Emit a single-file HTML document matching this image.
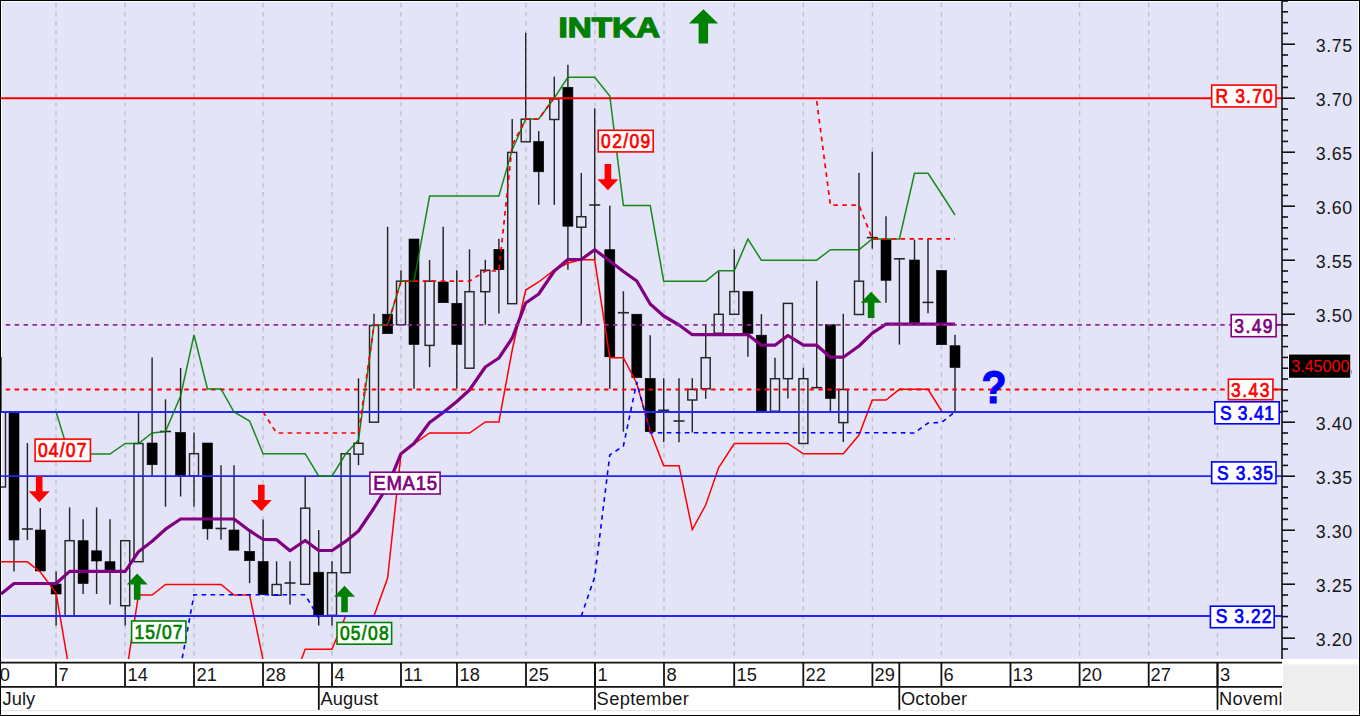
<!DOCTYPE html>
<html><head><meta charset="utf-8"><style>
html,body{margin:0;padding:0;background:#fff;}
svg{display:block;}
text{font-family:"Liberation Sans",sans-serif;}
</style></head><body>
<svg width="1360" height="716" viewBox="0 0 1360 716">
<defs><clipPath id="plot"><rect x="1" y="2" width="1281" height="657"/></clipPath></defs>
<rect x="0" y="0" width="1360" height="716" fill="#fff"/>
<rect x="2" y="2" width="1356" height="657" fill="#E4E4F8"/>
<rect x="1283" y="664.5" width="75" height="46.5" fill="#EEEEEE"/>

<g stroke="#C0C0C4" stroke-width="1.35" stroke-dasharray="4.4 4.6" stroke-dashoffset="-1">
<line x1="56" y1="2" x2="56" y2="659"/>
<line x1="125" y1="2" x2="125" y2="659"/>
<line x1="194" y1="2" x2="194" y2="659"/>
<line x1="263" y1="2" x2="263" y2="659"/>
<line x1="332" y1="2" x2="332" y2="659"/>
<line x1="401" y1="2" x2="401" y2="659"/>
<line x1="457" y1="2" x2="457" y2="659"/>
<line x1="526" y1="2" x2="526" y2="659"/>
<line x1="595" y1="2" x2="595" y2="659"/>
<line x1="664" y1="2" x2="664" y2="659"/>
<line x1="734.2" y1="2" x2="734.2" y2="659"/>
<line x1="803.3" y1="2" x2="803.3" y2="659"/>
<line x1="872.4" y1="2" x2="872.4" y2="659"/>
<line x1="941.4" y1="2" x2="941.4" y2="659"/>
<line x1="1010.5" y1="2" x2="1010.5" y2="659"/>
<line x1="1079.6" y1="2" x2="1079.6" y2="659"/>
<line x1="1148.7" y1="2" x2="1148.7" y2="659"/>
<line x1="1217.5" y1="2" x2="1217.5" y2="659"/>
</g>
<g clip-path="url(#plot)">
<g stroke="#262626" stroke-width="1.45" fill="none">
<line x1="1.0" y1="357" x2="1.0" y2="412"/>
<rect x="-3.5" y="412" width="9" height="75.0"/>
<line x1="14.0" y1="540" x2="14.0" y2="571.5"/>
<rect x="9.0" y="412" width="10" height="128.0" fill="#000" stroke="#000" stroke-width="0.6"/>
<line x1="27.4" y1="443" x2="27.4" y2="540"/>
<line x1="21.9" y1="529" x2="32.9" y2="529" stroke-width="1.6"/>
<line x1="40.3" y1="508" x2="40.3" y2="530"/>
<rect x="35.3" y="530" width="10" height="41.0" fill="#000" stroke="#000" stroke-width="0.6"/>
<line x1="56.1" y1="571.5" x2="56.1" y2="584"/>
<line x1="56.1" y1="594" x2="56.1" y2="625.5"/>
<rect x="51.1" y="584" width="10" height="10.0" fill="#000" stroke="#000" stroke-width="0.6"/>
<line x1="69.6" y1="507.4" x2="69.6" y2="540.7"/>
<rect x="65.1" y="540.7" width="9" height="75.3"/>
<line x1="83.1" y1="519.3" x2="83.1" y2="540.7"/>
<line x1="83.1" y1="583.5" x2="83.1" y2="594"/>
<rect x="78.1" y="540.7" width="10" height="42.8" fill="#000" stroke="#000" stroke-width="0.6"/>
<line x1="96.6" y1="507.4" x2="96.6" y2="550.8"/>
<line x1="96.6" y1="561" x2="96.6" y2="594"/>
<rect x="91.6" y="550.8" width="10" height="10.2" fill="#000" stroke="#000" stroke-width="0.6"/>
<line x1="110.0" y1="519.3" x2="110.0" y2="561.7"/>
<line x1="110.0" y1="570" x2="110.0" y2="604.5"/>
<rect x="105.0" y="561.7" width="10" height="8.3" fill="#000" stroke="#000" stroke-width="0.6"/>
<line x1="125.2" y1="605.7" x2="125.2" y2="625.5"/>
<rect x="120.7" y="540.7" width="9" height="65.0"/>
<line x1="138.5" y1="412" x2="138.5" y2="443.5"/>
<rect x="134.0" y="443.5" width="9" height="118.2"/>
<line x1="152.1" y1="357.4" x2="152.1" y2="443"/>
<line x1="152.1" y1="464.7" x2="152.1" y2="475.5"/>
<rect x="147.1" y="443" width="10" height="21.7" fill="#000" stroke="#000" stroke-width="0.6"/>
<line x1="165.5" y1="399.3" x2="165.5" y2="506.7"/>
<line x1="160.0" y1="431.5" x2="171.0" y2="431.5" stroke-width="1.6"/>
<line x1="180.6" y1="368" x2="180.6" y2="432.4"/>
<line x1="180.6" y1="475.8" x2="180.6" y2="496.5"/>
<rect x="175.6" y="432.4" width="10" height="43.4" fill="#000" stroke="#000" stroke-width="0.6"/>
<line x1="194.0" y1="432.4" x2="194.0" y2="453.7"/>
<line x1="194.0" y1="475.8" x2="194.0" y2="506.7"/>
<rect x="189.5" y="453.7" width="9" height="22.1"/>
<line x1="207.5" y1="528.8" x2="207.5" y2="539.7"/>
<rect x="202.5" y="443" width="10" height="85.8" fill="#000" stroke="#000" stroke-width="0.6"/>
<line x1="221.0" y1="465.3" x2="221.0" y2="539.7"/>
<line x1="215.5" y1="528.5" x2="226.5" y2="528.5" stroke-width="1.6"/>
<line x1="234.0" y1="465.3" x2="234.0" y2="530"/>
<rect x="229.0" y="530" width="10" height="20.2" fill="#000" stroke="#000" stroke-width="0.6"/>
<line x1="249.6" y1="532.2" x2="249.6" y2="551.3"/>
<line x1="249.6" y1="560.7" x2="249.6" y2="583.2"/>
<rect x="244.6" y="551.3" width="10" height="9.4" fill="#000" stroke="#000" stroke-width="0.6"/>
<line x1="263.1" y1="519.5" x2="263.1" y2="561.5"/>
<rect x="258.1" y="561.5" width="10" height="33.2" fill="#000" stroke="#000" stroke-width="0.6"/>
<line x1="276.6" y1="561.3" x2="276.6" y2="584.5"/>
<rect x="272.1" y="584.5" width="9" height="10.7"/>
<line x1="290.0" y1="561.3" x2="290.0" y2="604.5"/>
<line x1="284.5" y1="583" x2="295.5" y2="583" stroke-width="1.6"/>
<line x1="305.2" y1="476.7" x2="305.2" y2="508.2"/>
<rect x="300.7" y="508.2" width="9" height="76.1"/>
<line x1="318.7" y1="530" x2="318.7" y2="572.2"/>
<line x1="318.7" y1="615.3" x2="318.7" y2="625.5"/>
<rect x="313.7" y="572.2" width="10" height="43.1" fill="#000" stroke="#000" stroke-width="0.6"/>
<line x1="332.0" y1="561.3" x2="332.0" y2="572.7"/>
<line x1="332.0" y1="615.3" x2="332.0" y2="625.5"/>
<rect x="327.5" y="572.7" width="9" height="42.6"/>
<line x1="345.6" y1="453.7" x2="345.6" y2="453.8"/>
<rect x="341.1" y="453.8" width="9" height="118.9"/>
<line x1="358.5" y1="378.3" x2="358.5" y2="443.3"/>
<line x1="358.5" y1="454.2" x2="358.5" y2="465.2"/>
<rect x="354.0" y="443.3" width="9" height="10.9"/>
<line x1="374.0" y1="313.8" x2="374.0" y2="325.5"/>
<rect x="369.5" y="325.5" width="9" height="96.7"/>
<line x1="387.6" y1="226.8" x2="387.6" y2="314.2"/>
<rect x="382.6" y="314.2" width="10" height="19.5" fill="#000" stroke="#000" stroke-width="0.6"/>
<line x1="401.0" y1="270.3" x2="401.0" y2="281.2"/>
<rect x="396.5" y="281.2" width="9" height="43.5"/>
<line x1="414.0" y1="344.5" x2="414.0" y2="388.8"/>
<rect x="409.0" y="239" width="10" height="105.5" fill="#000" stroke="#000" stroke-width="0.6"/>
<line x1="429.6" y1="260" x2="429.6" y2="281.2"/>
<line x1="429.6" y1="345.4" x2="429.6" y2="367.2"/>
<rect x="425.1" y="281.2" width="9" height="64.2"/>
<line x1="443.2" y1="226.8" x2="443.2" y2="282"/>
<rect x="438.2" y="282" width="10" height="20.7" fill="#000" stroke="#000" stroke-width="0.6"/>
<line x1="456.8" y1="270.3" x2="456.8" y2="303.3"/>
<line x1="456.8" y1="344.5" x2="456.8" y2="388.8"/>
<rect x="451.8" y="303.3" width="10" height="41.2" fill="#000" stroke="#000" stroke-width="0.6"/>
<line x1="469.5" y1="249.3" x2="469.5" y2="291.7"/>
<rect x="465.0" y="291.7" width="9" height="76.5"/>
<line x1="485.3" y1="259.8" x2="485.3" y2="270.3"/>
<line x1="485.3" y1="291.7" x2="485.3" y2="324.7"/>
<rect x="480.8" y="270.3" width="9" height="21.4"/>
<line x1="498.9" y1="238.8" x2="498.9" y2="249.3"/>
<line x1="498.9" y1="269.7" x2="498.9" y2="313.5"/>
<rect x="493.9" y="249.3" width="10" height="20.4" fill="#000" stroke="#000" stroke-width="0.6"/>
<line x1="512.2" y1="119" x2="512.2" y2="152.4"/>
<rect x="507.7" y="152.4" width="9" height="151.3"/>
<line x1="525.7" y1="32.8" x2="525.7" y2="119.2"/>
<rect x="521.2" y="119.2" width="9" height="22.6"/>
<line x1="538.7" y1="131" x2="538.7" y2="141.5"/>
<line x1="538.7" y1="171.8" x2="538.7" y2="204.8"/>
<rect x="533.7" y="141.5" width="10" height="30.3" fill="#000" stroke="#000" stroke-width="0.6"/>
<line x1="554.3" y1="76.7" x2="554.3" y2="99"/>
<line x1="554.3" y1="119.5" x2="554.3" y2="204.8"/>
<rect x="549.8" y="99" width="9" height="20.5"/>
<line x1="567.9" y1="64.8" x2="567.9" y2="87.3"/>
<line x1="567.9" y1="226.2" x2="567.9" y2="269.7"/>
<rect x="562.9" y="87.3" width="10" height="138.9" fill="#000" stroke="#000" stroke-width="0.6"/>
<line x1="581.3" y1="173" x2="581.3" y2="216.7"/>
<line x1="581.3" y1="227.2" x2="581.3" y2="324.2"/>
<rect x="576.8" y="216.7" width="9" height="10.5"/>
<line x1="594.7" y1="108.3" x2="594.7" y2="260"/>
<line x1="589.2" y1="205" x2="600.2" y2="205" stroke-width="1.6"/>
<line x1="609.8" y1="205.8" x2="609.8" y2="249.7"/>
<line x1="609.8" y1="356.8" x2="609.8" y2="388.7"/>
<rect x="604.8" y="249.7" width="10" height="107.1" fill="#000" stroke="#000" stroke-width="0.6"/>
<line x1="623.4" y1="291.2" x2="623.4" y2="431.7"/>
<line x1="617.9" y1="312.7" x2="628.9" y2="312.7" stroke-width="1.6"/>
<rect x="631.8" y="314.2" width="10" height="63.4" fill="#000" stroke="#000" stroke-width="0.6"/>
<line x1="650.2" y1="335.2" x2="650.2" y2="378.4"/>
<rect x="645.2" y="378.4" width="10" height="53.3" fill="#000" stroke="#000" stroke-width="0.6"/>
<line x1="663.7" y1="378.2" x2="663.7" y2="442.2"/>
<line x1="658.2" y1="410.3" x2="669.2" y2="410.3" stroke-width="1.6"/>
<line x1="679.0" y1="378.2" x2="679.0" y2="442.2"/>
<line x1="673.5" y1="421" x2="684.5" y2="421" stroke-width="1.6"/>
<line x1="692.3" y1="378.2" x2="692.3" y2="389.4"/>
<line x1="692.3" y1="400" x2="692.3" y2="432.5"/>
<rect x="687.8" y="389.4" width="9" height="10.6"/>
<line x1="705.7" y1="324.7" x2="705.7" y2="357.7"/>
<line x1="705.7" y1="388.8" x2="705.7" y2="398.8"/>
<rect x="701.2" y="357.7" width="9" height="31.1"/>
<line x1="718.7" y1="271.5" x2="718.7" y2="314.3"/>
<rect x="714.2" y="314.3" width="9" height="18.9"/>
<line x1="734.3" y1="249.3" x2="734.3" y2="291.6"/>
<rect x="729.8" y="291.6" width="9" height="22.7"/>
<line x1="747.9" y1="333.5" x2="747.9" y2="356.8"/>
<rect x="742.9" y="291.6" width="10" height="41.9" fill="#000" stroke="#000" stroke-width="0.6"/>
<line x1="761.4" y1="314.2" x2="761.4" y2="335.2"/>
<rect x="756.4" y="335.2" width="10" height="76.1" fill="#000" stroke="#000" stroke-width="0.6"/>
<line x1="775.0" y1="357.7" x2="775.0" y2="378.7"/>
<rect x="770.5" y="378.7" width="9" height="32.5"/>
<line x1="787.9" y1="378.7" x2="787.9" y2="398.5"/>
<rect x="783.4" y="303.4" width="9" height="75.3"/>
<line x1="803.4" y1="367.7" x2="803.4" y2="378.7"/>
<rect x="798.9" y="378.7" width="9" height="64.8"/>
<line x1="816.7" y1="280.8" x2="816.7" y2="387.7"/>
<line x1="811.2" y1="387.7" x2="822.2" y2="387.7" stroke-width="1.6"/>
<line x1="830.4" y1="398.5" x2="830.4" y2="411.4"/>
<rect x="825.4" y="324.7" width="10" height="73.8" fill="#000" stroke="#000" stroke-width="0.6"/>
<line x1="843.3" y1="313.8" x2="843.3" y2="389.5"/>
<line x1="843.3" y1="422.6" x2="843.3" y2="442"/>
<rect x="838.8" y="389.5" width="9" height="33.1"/>
<line x1="859.0" y1="172.7" x2="859.0" y2="281.2"/>
<rect x="854.5" y="281.2" width="9" height="33.3"/>
<line x1="872.3" y1="151.7" x2="872.3" y2="248.7"/>
<line x1="866.8" y1="237.6" x2="877.8" y2="237.6" stroke-width="1.6"/>
<line x1="886.0" y1="216.2" x2="886.0" y2="239.7"/>
<line x1="886.0" y1="280.3" x2="886.0" y2="302.7"/>
<rect x="881.0" y="239.7" width="10" height="40.6" fill="#000" stroke="#000" stroke-width="0.6"/>
<line x1="899.4" y1="258.8" x2="899.4" y2="344.7"/>
<line x1="893.9" y1="258.8" x2="904.9" y2="258.8" stroke-width="1.6"/>
<line x1="914.5" y1="239.7" x2="914.5" y2="260"/>
<rect x="909.5" y="260" width="10" height="62.6" fill="#000" stroke="#000" stroke-width="0.6"/>
<line x1="928.0" y1="239" x2="928.0" y2="313.2"/>
<line x1="922.5" y1="302.4" x2="933.5" y2="302.4" stroke-width="1.6"/>
<rect x="936.6" y="270.5" width="10" height="74.2" fill="#000" stroke="#000" stroke-width="0.6"/>
<line x1="955.0" y1="334.8" x2="955.0" y2="345.7"/>
<line x1="955.0" y1="367.5" x2="955.0" y2="411"/>
<rect x="950.0" y="345.7" width="10" height="21.8" fill="#000" stroke="#000" stroke-width="0.6"/>
</g>
<polyline points="-12.7,561.8 1.0,561.8 14.0,561.8 27.4,561.8 40.3,572.0 56.1,593.0 69.6,672.0 83.1,720.0 96.6,720.0 110.0,720.0 125.2,680.0 138.5,595.0 152.1,595.0 165.5,584.4 180.6,584.4 194.0,584.4 207.5,584.4 221.0,584.4 234.0,595.0 249.6,595.0 263.1,660.0 276.6,700.0 290.0,690.0 305.2,649.2 318.7,649.2 332.0,649.2 345.6,616.0 358.5,616.0 374.0,616.0 387.6,578.0 401.0,454.0 414.0,444.0 429.6,433.0 443.2,433.0 456.8,433.0 469.5,433.0 485.3,422.0 498.9,422.0 512.2,350.0 525.7,290.0 538.7,282.0 554.3,270.0 567.9,263.0 581.3,259.8 594.7,259.8 609.8,357.7 623.4,357.7 636.8,383.5 650.2,431.0 663.7,465.7 679.0,465.7 692.3,529.7 705.7,505.0 718.7,467.5 734.3,443.5 747.9,443.5 761.4,443.5 775.0,443.5 787.9,443.5 803.4,453.8 816.7,453.8 830.4,453.8 843.3,453.8 859.0,435.0 872.3,400.1 886.0,400.1 899.4,389.3 914.5,389.3 928.0,389.3 941.6,411.0" fill="none" stroke="#FF0000" stroke-width="1.5"/>
<polyline points="1.0,594.0 14.0,583.5 27.4,583.5 40.3,583.5 56.1,583.5 69.6,571.4 83.1,571.4 96.6,571.4 110.0,571.4 125.2,571.4 138.5,551.7 152.1,541.2 165.5,529.2 180.6,519.0 194.0,519.0 207.5,519.0 221.0,519.0 234.0,519.0 249.6,530.7 263.1,539.5 276.6,539.7 290.0,550.8 305.2,540.5 318.7,550.5 332.0,550.5 345.6,541.4 358.5,531.0 374.0,508.0 387.6,486.0 401.0,453.7 414.0,443.5 429.6,422.5 443.2,412.5 456.8,401.5 469.5,390.0 485.3,367.0 498.9,358.0 512.2,338.0 525.7,303.0 538.7,294.0 554.3,271.0 567.9,259.5 581.3,259.5 594.7,249.7 609.8,261.0 623.4,271.5 636.8,281.0 650.2,304.0 663.7,316.0 679.0,325.0 692.3,334.7 705.7,334.7 718.7,334.7 734.3,334.7 747.9,334.7 761.4,345.2 775.0,345.2 787.9,335.5 803.4,345.2 816.7,345.2 830.4,357.2 843.3,357.2 859.0,346.0 872.3,333.2 886.0,324.2 899.4,324.2 914.5,324.2 928.0,324.2 941.6,324.2 955.0,324.2" fill="none" stroke="#800080" stroke-width="3.2" stroke-linejoin="round"/>
<line x1="1" y1="98.2" x2="1282" y2="98.2" stroke="#FF0000" stroke-width="2"/>
<line x1="2" y1="324.8" x2="1282" y2="324.8" stroke="#8E2A94" stroke-width="1.8" stroke-dasharray="4.5 4.43" stroke-dashoffset="-3.7"/>
<line x1="2" y1="389.5" x2="1282" y2="389.5" stroke="#FF0000" stroke-width="1.8" stroke-dasharray="4.5 4.43" stroke-dashoffset="-3.7"/>
<line x1="1" y1="412.0" x2="1282" y2="412.0" stroke="#2424FF" stroke-width="1.8"/>
<line x1="1" y1="476.2" x2="1282" y2="476.2" stroke="#2424FF" stroke-width="1.8"/>
<line x1="1" y1="616.0" x2="1282" y2="616.0" stroke="#2424FF" stroke-width="1.8"/>
<polyline points="56.1,412.0 69.6,456.0 83.1,454.0 96.6,454.0 110.0,454.0 125.2,443.5 138.5,443.5 152.1,433.0 165.5,431.5 180.6,396.0 194.0,335.0 207.5,389.0 221.0,389.0 234.0,412.0 249.6,421.0 263.1,453.7 276.6,453.7 290.0,453.7 305.2,453.7 318.7,476.2 332.0,476.2 345.6,454.0 358.5,440.0 374.0,325.0 387.6,325.0 401.0,281.2 414.0,281.2 429.6,196.0 443.2,196.0 456.8,196.0 469.5,196.0 485.3,196.0 498.9,196.0 512.2,150.0 525.7,119.0 538.7,119.0 554.3,98.0 567.9,77.3 581.3,77.3 594.7,77.3 609.8,96.0 623.4,205.5 636.8,205.5 650.2,205.5 663.7,281.2 679.0,281.2 692.3,281.2 705.7,281.2 718.7,270.7 734.3,270.7 747.9,239.2 761.4,260.2 775.0,260.2 787.9,260.2 803.4,260.2 816.7,260.2 830.4,249.7 843.3,249.7 859.0,249.7 872.3,239.0 886.0,239.0 899.4,239.0 914.5,173.3 928.0,173.3 941.6,194.0 955.0,215.0" fill="none" stroke="#008000" stroke-width="1.5" opacity="0.9"/>
<polyline points="263.1,412.0 276.6,433.0 290.0,433.0 305.2,433.0 318.7,433.0 332.0,433.0 345.6,433.0 358.5,433.0 374.0,325.0 387.6,325.0 401.0,281.2 414.0,281.2 429.6,281.2 443.2,281.2 456.8,281.2 469.5,281.2 485.3,271.0 498.9,271.0 512.2,145.0 525.7,119.2 538.7,119.2 554.3,97.5" fill="none" stroke="#FF0000" stroke-width="1.7" stroke-dasharray="4.6 4.4"/>
<polyline points="816.7,101.0 830.4,205.2 843.3,205.2 859.0,205.2 872.3,238.8 886.0,238.8 899.4,238.8 914.5,238.8 928.0,238.8 941.6,238.8 955.0,238.8" fill="none" stroke="#FF0000" stroke-width="1.7" stroke-dasharray="4.6 4.4"/>
<polyline points="180.6,667.0 194.0,594.8 207.5,594.8 221.0,594.8 234.0,594.8 249.6,594.8 263.1,594.8 276.6,594.8 290.0,594.8 305.2,594.8 318.7,618.0" fill="none" stroke="#0000FF" stroke-width="1.6" stroke-dasharray="4.6 4.4"/>
<polyline points="581.3,616.0 594.7,577.0 609.8,455.0 623.4,446.0 636.8,382.0 650.2,432.8 663.7,432.8 679.0,432.8 692.3,432.8 705.7,432.8 718.7,432.8 734.3,432.8 747.9,432.8 761.4,432.8 775.0,432.8 787.9,432.8 803.4,432.8 816.7,432.8 830.4,432.8 843.3,432.8 859.0,432.8 872.3,432.8 886.0,432.8 899.4,432.8 914.5,433.0 928.0,423.0 941.6,422.5 955.0,411.8" fill="none" stroke="#0000FF" stroke-width="1.6" stroke-dasharray="4.6 4.4"/>
</g>
<path d="M39.2,502.2 L49.7,491.2 L42.5,491.2 L42.5,476.3 L35.9,476.3 L35.9,491.2 L28.7,491.2 Z" fill="#FF0000"/>
<path d="M261.3,511.0 L271.8,500.0 L264.6,500.0 L264.6,484.8 L258.0,484.8 L258.0,500.0 L250.8,500.0 Z" fill="#FF0000"/>
<path d="M607.9,190.2 L618.4,179.2 L611.2,179.2 L611.2,164.0 L604.6,164.0 L604.6,179.2 L597.4,179.2 Z" fill="#FF0000"/>
<path d="M137.2,573.6 L147.7,584.6 L140.5,584.6 L140.5,599.8 L133.9,599.8 L133.9,584.6 L126.7,584.6 Z" fill="#008000"/>
<path d="M344.5,585.7 L355.0,596.7 L347.8,596.7 L347.8,612.3 L341.2,612.3 L341.2,596.7 L334.0,596.7 Z" fill="#008000"/>
<path d="M871.1,291.7 L881.6,302.7 L874.4,302.7 L874.4,318.0 L867.8,318.0 L867.8,302.7 L860.6,302.7 Z" fill="#008000"/>
<rect x="35.1" y="439.1" width="55.3" height="22.2" fill="#fff" stroke="#FF0000" stroke-width="1.6"/>
<text transform="translate(37.9,457.3) scale(0.88,1)" x="0" y="0" font-size="19.8" font-weight="normal" fill="#FF0000" stroke="#FF0000" stroke-width="0.75" textLength="55.1" lengthAdjust="spacing">04/07</text>
<rect x="131.6" y="621.0" width="54.3" height="21.7" fill="#fff" stroke="#008000" stroke-width="1.6"/>
<text transform="translate(134.5,638.6) scale(0.88,1)" x="0" y="0" font-size="19.8" font-weight="normal" fill="#008000" stroke="#008000" stroke-width="0.75" textLength="54.5" lengthAdjust="spacing">15/07</text>
<rect x="337.0" y="622.5" width="54.6" height="21.7" fill="#fff" stroke="#008000" stroke-width="1.6"/>
<text transform="translate(339.9,640.1) scale(0.88,1)" x="0" y="0" font-size="19.8" font-weight="normal" fill="#008000" stroke="#008000" stroke-width="0.75" textLength="55.3" lengthAdjust="spacing">05/08</text>
<rect x="598.2" y="130.3" width="55.0" height="21.6" fill="#fff" stroke="#FF0000" stroke-width="1.6"/>
<text transform="translate(601.1,148.0) scale(0.88,1)" x="0" y="0" font-size="19.8" font-weight="normal" fill="#FF0000" stroke="#FF0000" stroke-width="0.75" textLength="55.9" lengthAdjust="spacing">02/09</text>
<rect x="369.9" y="472.2" width="70.2" height="21.8" fill="#fff" stroke="#800080" stroke-width="1.6"/>
<text transform="translate(373.3,489.9) scale(0.94,1)" x="0" y="0" font-size="19.8" font-weight="normal" fill="#800080" stroke="#800080" stroke-width="0.75" textLength="67.8" lengthAdjust="spacing">EMA15</text>
<line x1="1276" y1="324.8" x2="1282" y2="324.8" stroke="#800080" stroke-width="1.8"/>
<line x1="1273" y1="389.5" x2="1282" y2="389.5" stroke="#FF0000" stroke-width="1.8"/>
<rect x="1211.7" y="85.1" width="64.3" height="21.8" fill="#fff" stroke="#FF0000" stroke-width="1.6"/>
<text transform="translate(1215.4,102.9) scale(0.88,1)" x="0" y="0" font-size="19.8" font-weight="normal" fill="#FF0000" stroke="#FF0000" stroke-width="0.75" textLength="65.1" lengthAdjust="spacing">R 3.70</text>
<rect x="1231.2" y="314.6" width="44.9" height="22.1" fill="#fff" stroke="#800080" stroke-width="1.6"/>
<text transform="translate(1234.3,332.5) scale(0.88,1)" x="0" y="0" font-size="19.8" font-weight="normal" fill="#800080" stroke="#800080" stroke-width="0.75" textLength="43.4" lengthAdjust="spacing">3.49</text>
<rect x="1228.4" y="379.2" width="44.5" height="20.5" fill="#fff" stroke="#FF0000" stroke-width="1.6"/>
<text transform="translate(1231.0,396.5) scale(0.88,1)" x="0" y="0" font-size="19.8" font-weight="normal" fill="#FF0000" stroke="#FF0000" stroke-width="0.75" textLength="43.8" lengthAdjust="spacing">3.43</text>
<rect x="1214.8" y="401.8" width="64.4" height="22.0" fill="#fff" stroke="#0000FF" stroke-width="1.6"/>
<text transform="translate(1219.9,419.8) scale(0.88,1)" x="0" y="0" font-size="19.8" font-weight="normal" fill="#0000FF" stroke="#0000FF" stroke-width="0.75" textLength="61.5" lengthAdjust="spacing">S 3.41</text>
<rect x="1211.7" y="461.9" width="64.3" height="21.6" fill="#fff" stroke="#0000FF" stroke-width="1.6"/>
<text transform="translate(1217.1,479.5) scale(0.88,1)" x="0" y="0" font-size="19.8" font-weight="normal" fill="#0000FF" stroke="#0000FF" stroke-width="0.75" textLength="63.5" lengthAdjust="spacing">S 3.35</text>
<rect x="1210.4" y="606.2" width="63.8" height="21.5" fill="#fff" stroke="#0000FF" stroke-width="1.6"/>
<text transform="translate(1215.7,623.1) scale(0.88,1)" x="0" y="0" font-size="19.8" font-weight="normal" fill="#0000FF" stroke="#0000FF" stroke-width="0.75" textLength="63.3" lengthAdjust="spacing">S 3.22</text>
<line x1="1282" y1="0" x2="1282" y2="659" stroke="#111" stroke-width="1.6"/>
<g stroke="#111" stroke-width="1.6">
<line x1="1282" y1="649.0" x2="1288" y2="649.0"/>
<line x1="1282" y1="638.2" x2="1295" y2="638.2"/>
<line x1="1282" y1="627.4" x2="1288" y2="627.4"/>
<line x1="1282" y1="616.6" x2="1288" y2="616.6"/>
<line x1="1282" y1="605.8" x2="1288" y2="605.8"/>
<line x1="1282" y1="595.0" x2="1288" y2="595.0"/>
<line x1="1282" y1="584.2" x2="1295" y2="584.2"/>
<line x1="1282" y1="573.4" x2="1288" y2="573.4"/>
<line x1="1282" y1="562.6" x2="1288" y2="562.6"/>
<line x1="1282" y1="551.8" x2="1288" y2="551.8"/>
<line x1="1282" y1="541.0" x2="1288" y2="541.0"/>
<line x1="1282" y1="530.2" x2="1295" y2="530.2"/>
<line x1="1282" y1="519.4" x2="1288" y2="519.4"/>
<line x1="1282" y1="508.6" x2="1288" y2="508.6"/>
<line x1="1282" y1="497.8" x2="1288" y2="497.8"/>
<line x1="1282" y1="487.0" x2="1288" y2="487.0"/>
<line x1="1282" y1="476.2" x2="1295" y2="476.2"/>
<line x1="1282" y1="465.4" x2="1288" y2="465.4"/>
<line x1="1282" y1="454.6" x2="1288" y2="454.6"/>
<line x1="1282" y1="443.8" x2="1288" y2="443.8"/>
<line x1="1282" y1="433.0" x2="1288" y2="433.0"/>
<line x1="1282" y1="422.2" x2="1295" y2="422.2"/>
<line x1="1282" y1="411.4" x2="1288" y2="411.4"/>
<line x1="1282" y1="400.6" x2="1288" y2="400.6"/>
<line x1="1282" y1="389.8" x2="1288" y2="389.8"/>
<line x1="1282" y1="379.0" x2="1288" y2="379.0"/>
<line x1="1282" y1="368.2" x2="1295" y2="368.2"/>
<line x1="1282" y1="357.4" x2="1288" y2="357.4"/>
<line x1="1282" y1="346.6" x2="1288" y2="346.6"/>
<line x1="1282" y1="335.8" x2="1288" y2="335.8"/>
<line x1="1282" y1="325.0" x2="1288" y2="325.0"/>
<line x1="1282" y1="314.2" x2="1295" y2="314.2"/>
<line x1="1282" y1="303.4" x2="1288" y2="303.4"/>
<line x1="1282" y1="292.6" x2="1288" y2="292.6"/>
<line x1="1282" y1="281.8" x2="1288" y2="281.8"/>
<line x1="1282" y1="271.0" x2="1288" y2="271.0"/>
<line x1="1282" y1="260.2" x2="1295" y2="260.2"/>
<line x1="1282" y1="249.4" x2="1288" y2="249.4"/>
<line x1="1282" y1="238.6" x2="1288" y2="238.6"/>
<line x1="1282" y1="227.8" x2="1288" y2="227.8"/>
<line x1="1282" y1="217.0" x2="1288" y2="217.0"/>
<line x1="1282" y1="206.2" x2="1295" y2="206.2"/>
<line x1="1282" y1="195.4" x2="1288" y2="195.4"/>
<line x1="1282" y1="184.6" x2="1288" y2="184.6"/>
<line x1="1282" y1="173.8" x2="1288" y2="173.8"/>
<line x1="1282" y1="163.0" x2="1288" y2="163.0"/>
<line x1="1282" y1="152.2" x2="1295" y2="152.2"/>
<line x1="1282" y1="141.4" x2="1288" y2="141.4"/>
<line x1="1282" y1="130.6" x2="1288" y2="130.6"/>
<line x1="1282" y1="119.8" x2="1288" y2="119.8"/>
<line x1="1282" y1="109.0" x2="1288" y2="109.0"/>
<line x1="1282" y1="98.2" x2="1295" y2="98.2"/>
<line x1="1282" y1="87.4" x2="1288" y2="87.4"/>
<line x1="1282" y1="76.6" x2="1288" y2="76.6"/>
<line x1="1282" y1="65.8" x2="1288" y2="65.8"/>
<line x1="1282" y1="55.0" x2="1288" y2="55.0"/>
<line x1="1282" y1="44.2" x2="1295" y2="44.2"/>
<line x1="1282" y1="33.4" x2="1288" y2="33.4"/>
<line x1="1282" y1="22.6" x2="1288" y2="22.6"/>
<line x1="1282" y1="11.8" x2="1288" y2="11.8"/>
<line x1="1282" y1="1.0" x2="1288" y2="1.0"/>
</g>
<text x="1352.6" y="646.4" font-size="17.8" fill="#161616" text-anchor="end" letter-spacing="0.55">3.20</text>
<text x="1352.6" y="592.4" font-size="17.8" fill="#161616" text-anchor="end" letter-spacing="0.55">3.25</text>
<text x="1352.6" y="538.4" font-size="17.8" fill="#161616" text-anchor="end" letter-spacing="0.55">3.30</text>
<text x="1352.6" y="484.4" font-size="17.8" fill="#161616" text-anchor="end" letter-spacing="0.55">3.35</text>
<text x="1352.6" y="430.4" font-size="17.8" fill="#161616" text-anchor="end" letter-spacing="0.55">3.40</text>
<text x="1352.6" y="376.4" font-size="17.8" fill="#161616" text-anchor="end" letter-spacing="0.55">3.45</text>
<text x="1352.6" y="322.4" font-size="17.8" fill="#161616" text-anchor="end" letter-spacing="0.55">3.50</text>
<text x="1352.6" y="268.4" font-size="17.8" fill="#161616" text-anchor="end" letter-spacing="0.55">3.55</text>
<text x="1352.6" y="214.4" font-size="17.8" fill="#161616" text-anchor="end" letter-spacing="0.55">3.60</text>
<text x="1352.6" y="160.4" font-size="17.8" fill="#161616" text-anchor="end" letter-spacing="0.55">3.65</text>
<text x="1352.6" y="106.4" font-size="17.8" fill="#161616" text-anchor="end" letter-spacing="0.55">3.70</text>
<text x="1352.6" y="52.4" font-size="17.8" fill="#161616" text-anchor="end" letter-spacing="0.55">3.75</text>
<rect x="1288.2" y="353.7" width="62.9" height="24.9" fill="#fff"/>
<rect x="1289" y="354.5" width="61.3" height="23.3" fill="#000"/>
<text x="1291.2" y="371.8" font-size="16" fill="#FF0000" textLength="58.2" lengthAdjust="spacingAndGlyphs">3.45000</text>
<text x="558.6" y="37.2" font-size="28.5" font-weight="bold" fill="#008000" stroke="#008000" stroke-width="1.3" textLength="101.5" lengthAdjust="spacingAndGlyphs">INTKA</text>
<path d="M703.4,9.2 L718.2,23.4 L708.1,23.4 L708.1,43.4 L698.6,43.4 L698.6,23.4 L688.9,23.4 Z" fill="#008000"/>
<text x="981.5" y="403.3" font-size="46" font-weight="bold" fill="#0000FF" stroke="#0000FF" stroke-width="1.2" textLength="25" lengthAdjust="spacingAndGlyphs">?</text>
<rect x="1" y="662" width="1281" height="49" fill="#fff"/>
<g stroke="#111" stroke-width="1.8">
<line x1="1" y1="662.6" x2="1282" y2="662.6"/>
<line x1="1" y1="686.8" x2="1282" y2="686.8"/>
<line x1="56" y1="662" x2="56" y2="687"/>
<line x1="125" y1="662" x2="125" y2="687"/>
<line x1="194" y1="662" x2="194" y2="687"/>
<line x1="263" y1="662" x2="263" y2="687"/>
<line x1="332" y1="662" x2="332" y2="687"/>
<line x1="401" y1="662" x2="401" y2="687"/>
<line x1="457" y1="662" x2="457" y2="687"/>
<line x1="526" y1="662" x2="526" y2="687"/>
<line x1="595" y1="662" x2="595" y2="687"/>
<line x1="664" y1="662" x2="664" y2="687"/>
<line x1="734.2" y1="662" x2="734.2" y2="687"/>
<line x1="803.3" y1="662" x2="803.3" y2="687"/>
<line x1="872.4" y1="662" x2="872.4" y2="687"/>
<line x1="941.4" y1="662" x2="941.4" y2="687"/>
<line x1="1010.5" y1="662" x2="1010.5" y2="687"/>
<line x1="1079.6" y1="662" x2="1079.6" y2="687"/>
<line x1="1148.7" y1="662" x2="1148.7" y2="687"/>
<line x1="1217.5" y1="662" x2="1217.5" y2="687"/>
<line x1="318.8" y1="662" x2="318.8" y2="709.8"/>
<line x1="595" y1="662" x2="595" y2="709.8"/>
<line x1="899.3" y1="662" x2="899.3" y2="709.8"/>
<line x1="1217.5" y1="662" x2="1217.5" y2="709.8"/>
</g>
<line x1="1" y1="710.6" x2="1282" y2="710.6" stroke="#e6e6e6" stroke-width="1"/>
<clipPath id="dclip"><rect x="1" y="662" width="1280.5" height="50"/></clipPath>
<g clip-path="url(#dclip)" font-size="18.3" fill="#161616" letter-spacing="0.3">
<text x="-10.6" y="681.3">30</text>
<text x="58.4" y="681.3">7</text>
<text x="127.4" y="681.3">14</text>
<text x="196.4" y="681.3">21</text>
<text x="265.4" y="681.3">28</text>
<text x="334.4" y="681.3">4</text>
<text x="403.4" y="681.3">11</text>
<text x="459.4" y="681.3">18</text>
<text x="528.4" y="681.3">25</text>
<text x="597.4" y="681.3">1</text>
<text x="666.4" y="681.3">8</text>
<text x="736.4" y="681.3">15</text>
<text x="805.4" y="681.3">22</text>
<text x="874.4" y="681.3">29</text>
<text x="943.4" y="681.3">6</text>
<text x="1012.4" y="681.3">13</text>
<text x="1081.4" y="681.3">20</text>
<text x="1150.4" y="681.3">27</text>
<text x="1219.9" y="681.3">3</text>
<text x="2.6" y="705.4" letter-spacing="0">July</text>
<text x="320.4" y="705.4" letter-spacing="0.15">August</text>
<text x="596.6" y="705.4" letter-spacing="0.35">September</text>
<text x="900.9" y="705.4" letter-spacing="0.2">October</text>
<text x="1219.1" y="705.4" letter-spacing="0.3">November</text>
</g>
<rect x="0.5" y="0.5" width="1359" height="715" fill="none" stroke="#000" stroke-width="1"/>
</svg></body></html>
